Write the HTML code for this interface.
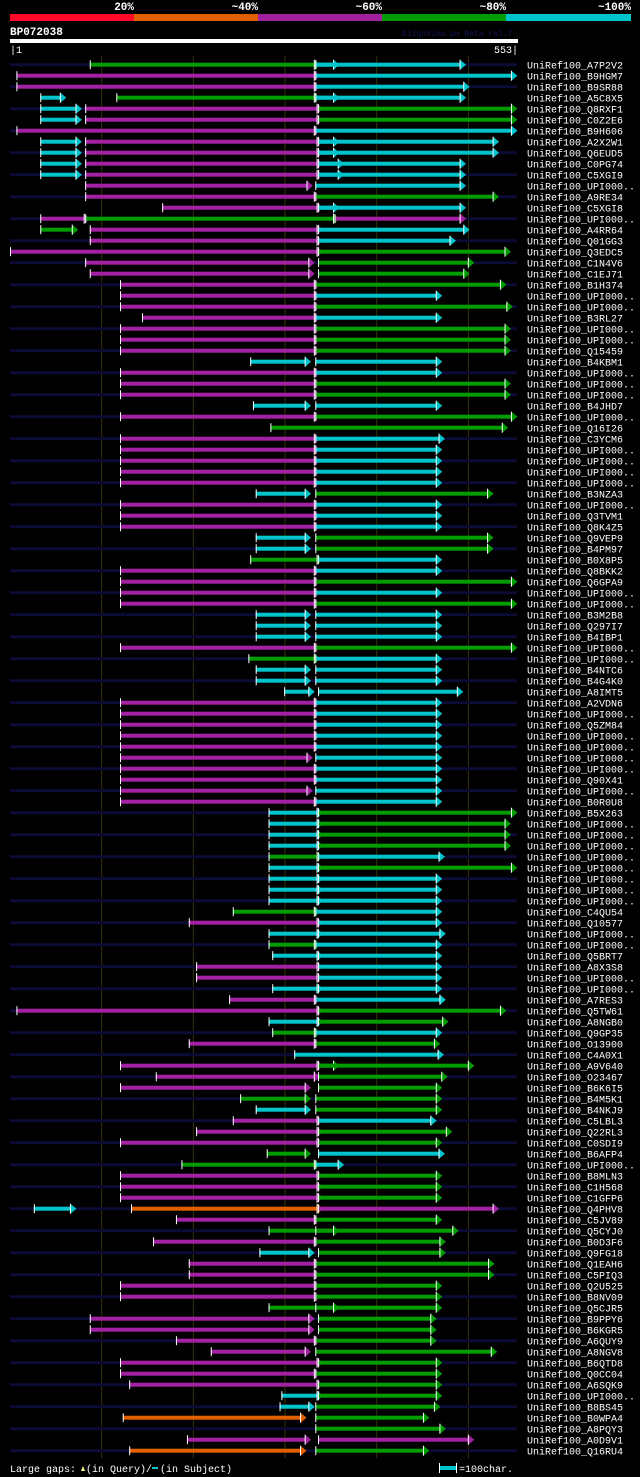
<!DOCTYPE html>
<html><head><meta charset="utf-8">
<style>
html,body{margin:0;padding:0;background:#000;}
body{width:640px;height:1477px;overflow:hidden;}
svg{display:block;}
text{font-family:"Liberation Mono","DejaVu Sans Mono",monospace;}
</style></head>
<body>
<svg id="chart" width="640" height="1477" viewBox="0 0 640 1477" xmlns="http://www.w3.org/2000/svg">
  <g>
    <rect x="10" y="14" width="124" height="7" fill="#ff0a28"/>
    <rect x="134" y="14" width="124" height="7" fill="#e06000"/>
    <rect x="258" y="14" width="124" height="7" fill="#a020a0"/>
    <rect x="382" y="14" width="124" height="7" fill="#009c00"/>
    <rect x="506" y="14" width="125" height="7" fill="#00c4cc"/>
    <g font-size="11" font-weight="bold" fill="#fff" text-anchor="end">
      <text x="134" y="10">20%</text>
      <text x="258" y="10">~40%</text>
      <text x="382" y="10">~60%</text>
      <text x="506" y="10">~80%</text>
      <text x="631" y="10">~100%</text>
    </g>
  </g>
  <text x="10" y="35" font-size="11" font-weight="bold" fill="#fff">BP072038</text>
  <text x="402" y="36" font-size="8" fill="#14145a">AlignView.pm Beta rel.7</text>
  <rect x="10" y="39" width="508" height="4" fill="#fff"/>
  <text x="10" y="53" font-size="10" fill="#fff">|1</text>
  <text x="518" y="53" font-size="10" fill="#fff" text-anchor="end">553|</text>
  <g id="grid"></g>
  <g id="rows"></g>
  <g>
    <text x="10" y="1472" font-size="10" fill="#fff">Large gaps:</text>
    <polygon points="81,1471 83,1466 85,1471" fill="#ffff80"/>
    <text x="86" y="1472" font-size="10" fill="#fff">(in Query)/</text>
    <rect x="152" y="1467" width="6" height="2" fill="#00c4cc"/>
    <text x="160" y="1472" font-size="10" fill="#fff">(in Subject)</text>
    <rect x="439" y="1466" width="17" height="4" fill="#00c4cc"/>
    <rect x="439" y="1463" width="1" height="10" fill="#fff"/>
    <rect x="456" y="1463" width="1" height="10" fill="#fff"/>
    <text x="459" y="1472" font-size="10" fill="#fff">=100char.</text>
  </g>
</svg>
<script>
const gridTicks = [100, 200, 300, 400, 500];
const labels = ["A7P2V2","B9HGM7","B9SR88","A5C8X5","Q8RXF1","C0Z2E6","B9H606","A2X2W1","Q6EUD5","C0PG74","C5XGI9","UPI000..","A9RE34","C5XGI8","UPI000..","A4RR64","Q01GG3","Q3EDC5","C1N4V6","C1EJ71","B1H374","UPI000..","UPI000..","B3RL27","UPI000..","UPI000..","Q15459","B4KBM1","UPI000..","UPI000..","UPI000..","B4JHD7","UPI000..","Q16I26","C3YCM6","UPI000..","UPI000..","UPI000..","UPI000..","B3NZA3","UPI000..","Q3TVM1","Q8K4Z5","Q9VEP9","B4PM97","B0X8P5","Q8BKK2","Q6GPA9","UPI000..","UPI000..","B3M2B8","Q297I7","B4IBP1","UPI000..","UPI000..","B4NTC6","B4G4K0","A8IMT5","A2VDN6","UPI000..","Q5ZM84","UPI000..","UPI000..","UPI000..","UPI000..","Q90X41","UPI000..","B0R0U8","B5X263","UPI000..","UPI000..","UPI000..","UPI000..","UPI000..","UPI000..","UPI000..","UPI000..","C4QU54","Q10577","UPI000..","UPI000..","Q5BRT7","A8X3S8","UPI000..","UPI000..","A7RES3","Q5TW61","A8NGB0","Q9GP35","O13900","C4A0X1","A9V640","O23467","B6K6I5","B4M5K1","B4NKJ9","C5LBL3","Q22RL3","C0SDI9","B6AFP4","UPI000..","B8MLN3","C1H568","C1GFP6","Q4PHV8","C5JV89","Q5CYJ0","B0D3F6","Q9FG18","Q1EAH6","C5PIQ3","Q2U525","B8NV09","Q5CJR5","B9PPY6","B6KGR5","A6QUY9","A8NGV8","B6QTD8","Q0CC04","A6SQK9","UPI000..","B8BS45","B0WPA4","A8PQY3","A0D9V1","Q16RU4"];
const hasBackground = labels.map((_, i) => i % 2 === 0 ? 1 : 0);
hasBackground[3] = 0;
const P = 'p', G = 'g', C = 'c', O = 'o';
const segments = [
[[87,333,G],[333,354,C],[333,492,C]],
[[7,333,P],[333,548,C]],
[[7,333,P],[333,496,C]],
[[33,56,C],[116,333,G],[333,354,C],[333,492,C]],
[[33,73,C],[82,336,P],[336,548,G]],
[[33,73,C],[82,336,P],[336,548,G]],
[[7,333,P],[333,548,C]],
[[33,73,C],[82,336,P],[336,354,C],[336,528,C]],
[[33,73,C],[82,336,P],[336,354,C],[336,528,C]],
[[33,73,C],[82,336,P],[336,359,C],[336,492,C]],
[[33,73,C],[82,336,P],[336,359,C],[336,492,C]],
[[82,325,P],[333,492,C]],
[[82,333,P],[333,528,G]],
[[166,336,P],[336,354,C],[336,492,C]],
[[33,82,P],[82,354,G],[354,492,P]],
[[33,69,G],[87,336,P],[336,496,C]],
[[87,336,P],[336,481,C]],
[[0,336,P],[336,541,G]],
[[82,327,P],[336,501,G]],
[[87,327,P],[336,496,G]],
[[120,333,P],[333,536,G]],
[[120,333,P],[333,466,C]],
[[120,333,P],[333,543,G]],
[[144,333,P],[333,466,C]],
[[120,333,P],[333,541,G]],
[[120,333,P],[333,541,G]],
[[120,333,P],[333,541,G]],
[[262,323,C],[333,466,C]],
[[120,333,P],[333,466,C]],
[[120,333,P],[333,541,G]],
[[120,333,P],[333,541,G]],
[[265,323,C],[333,466,C]],
[[120,333,P],[333,548,G]],
[[284,538,G]],
[[120,333,P],[333,469,C]],
[[120,333,P],[333,466,C]],
[[120,333,P],[333,466,C]],
[[120,333,P],[333,466,C]],
[[120,333,P],[333,466,C]],
[[268,323,C],[333,522,G]],
[[120,333,P],[333,466,C]],
[[120,333,P],[333,466,C]],
[[120,333,P],[333,466,C]],
[[268,323,C],[333,522,G]],
[[268,323,C],[333,522,G]],
[[262,336,G],[336,466,C]],
[[120,333,P],[333,466,C]],
[[120,333,P],[333,548,G]],
[[120,333,P],[333,466,C]],
[[120,333,P],[333,548,G]],
[[268,323,C],[333,466,C]],
[[268,323,C],[333,466,C]],
[[268,323,C],[333,466,C]],
[[120,333,P],[333,548,G]],
[[260,333,G],[333,466,C]],
[[268,323,C],[333,466,C]],
[[268,323,C],[333,466,C]],
[[299,327,C],[336,489,C]],
[[120,333,P],[333,466,C]],
[[120,333,P],[333,466,C]],
[[120,333,P],[333,466,C]],
[[120,333,P],[333,466,C]],
[[120,333,P],[333,466,C]],
[[120,325,P],[333,466,C]],
[[120,333,P],[333,466,C]],
[[120,333,P],[333,466,C]],
[[120,325,P],[333,466,C]],
[[120,333,P],[333,466,C]],
[[282,336,C],[336,548,G]],
[[282,336,C],[336,541,G]],
[[282,336,C],[336,541,G]],
[[282,336,C],[336,541,G]],
[[282,336,G],[336,469,C]],
[[282,336,C],[336,548,G]],
[[282,336,C],[336,466,C]],
[[282,336,C],[336,466,C]],
[[282,336,C],[336,466,C]],
[[243,333,G],[333,466,C]],
[[195,336,P],[336,466,C]],
[[282,336,C],[336,470,C]],
[[282,333,G],[333,466,C]],
[[286,336,C],[336,466,C]],
[[203,336,P],[336,466,C]],
[[203,336,P],[336,466,C]],
[[286,336,C],[336,466,C]],
[[239,333,P],[333,470,C]],
[[7,336,P],[336,536,G]],
[[282,336,C],[336,473,G]],
[[286,333,G],[333,466,C]],
[[195,333,P],[333,464,G]],
[[310,468,C]],
[[120,336,P],[336,354,G],[336,501,G]],
[[159,333,P],[336,472,G]],
[[120,323,P],[336,466,G]],
[[251,323,G],[333,466,G]],
[[268,323,C],[333,466,G]],
[[243,336,P],[336,460,C]],
[[203,336,P],[336,477,G]],
[[120,336,P],[336,466,G]],
[[280,323,G],[336,469,C]],
[[187,333,G],[333,359,C]],
[[120,336,P],[336,466,G]],
[[120,336,P],[336,466,G]],
[[120,336,P],[336,466,G]],
[[26,67,C],[132,336,O],[336,528,P]],
[[181,333,P],[333,466,G]],
[[282,484,G],[333,354,G]],
[[156,333,P],[333,470,G]],
[[272,327,C],[336,470,G]],
[[195,333,P],[333,523,G]],
[[195,333,P],[333,523,G]],
[[120,333,P],[333,466,G]],
[[120,333,P],[333,466,G]],
[[282,466,G],[333,354,G]],
[[87,327,P],[336,460,G]],
[[87,327,P],[336,460,G]],
[[181,333,P],[333,460,G]],
[[219,323,P],[333,526,G]],
[[120,336,P],[336,466,G]],
[[120,333,P],[333,466,G]],
[[130,336,P],[336,466,G]],
[[296,336,C],[336,466,G]],
[[294,327,C],[333,464,G]],
[[123,318,O],[333,452,G]],
[[333,470,G]],
[[193,323,P],[336,501,P]],
[[130,318,O],[333,452,G]]
];
const bgRows = [1,0,1,0,1,0,1,0,1,0,1,0,1,0,1,0,1,0,1,0,1,0,1,0,1,0,1,0,1,0,1,0,1,0,1,0,1,0,1,0,1,0,1,0,1,0,1,0,1,0,1,0,1,0,1,0,1,0,1,0,1,0,1,0,1,0,1,0,1,0,1,0,1,0,1,0,1,0,1,0,1,0,1,0,1,0,1,0,1,0,1,0,1,0,1,0,1,0,1,0,1,0,1,0,1,0,1,0,1,0,1,0,1,0,1,0,1,0,1,0,1,0,1,0,1,0,1];
bgRows[1] = 0; bgRows[3] = 0;

const QLEN = 553, X0 = 10, X1 = 517;
const xScale = c => X0 + c * (X1 - X0) / QLEN;
const rowY = i => 64.7 + i * 11;
const colorMap = {p:'#a321a3', g:'#009c00', c:'#00c4cc', o:'#e06000'};
const NS = 'http://www.w3.org/2000/svg';
function mk(tag, attrs, parent) {
  const el = document.createElementNS(NS, tag);
  for (const k in attrs) el.setAttribute(k, attrs[k]);
  parent.appendChild(el);
  return el;
}
const grid = document.getElementById('grid');
gridTicks.forEach(t => {
  const l = mk('line', {x1: xScale(t), x2: xScale(t), y1: 56, y2: 1458, stroke: '#33330a', 'stroke-width': 1}, grid);
  
  
});
const rowsG = document.getElementById('rows');
labels.forEach((lab, i) => {
  const y = rowY(i);
  const g = mk('g', {}, rowsG);
  
  
  if (bgRows[i]) {
    const b = mk('rect', {x: xScale(0), y: y - 1.5, width: xScale(QLEN) - xScale(0), height: 3, fill: '#0b0b36'}, g);
    
    
  }
  (segments[i] || []).forEach(s => {
    const xa = xScale(s[0]), xb = xScale(s[1]), col = colorMap[s[2]];
    const seg = mk('g', {}, g);
    
    
    mk('rect', {x: xa, y: y - 2, width: Math.max(0, xb - xa), height: 4, fill: col}, seg);
    mk('polygon', {points: `${xb - 1},${y - 5} ${xb + 5},${y} ${xb - 1},${y + 5}`, fill: col}, seg);
    mk('rect', {x: xb - 1.5, y: y - 5, width: 1, height: 10, fill: '#fff'}, seg);
    mk('rect', {x: xa, y: y - 4.5, width: 1, height: 9, fill: '#fff'}, seg);
  });
  const t = mk('text', {x: 527, y: y + 4, 'font-size': 10, fill: '#fff'}, g);
  
  
  t.textContent = 'UniRef100_' + lab;
});
</script>
</body></html>
